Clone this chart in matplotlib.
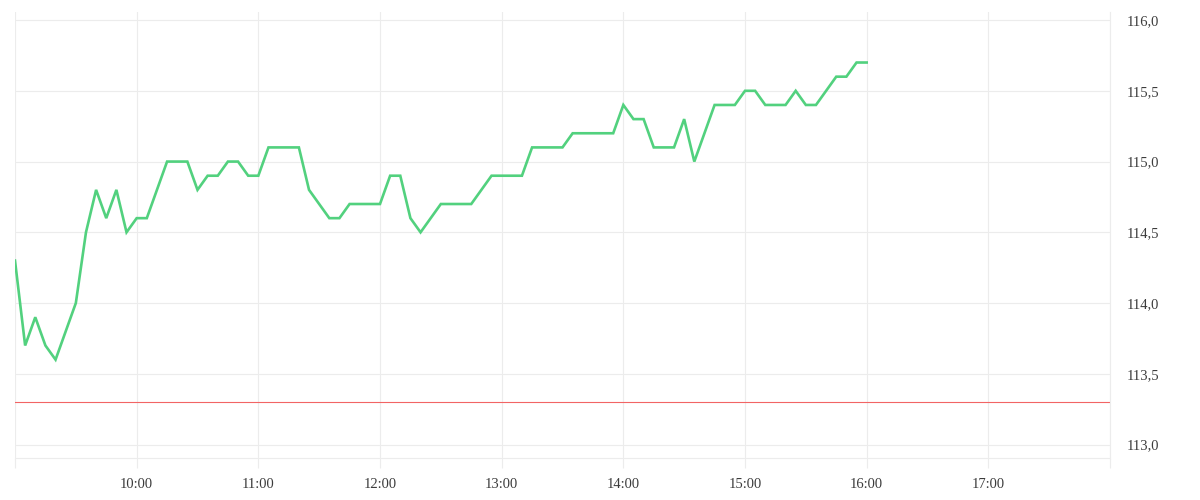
import matplotlib
matplotlib.use("Agg")
import matplotlib.pyplot as plt
from matplotlib.ticker import FixedLocator, FuncFormatter

# ---- data ----
times = [
    "09:00", "09:05", "09:10", "09:15", "09:20", "09:25", "09:30", "09:35", "09:40", "09:45", "09:50", "09:55",
    "10:00", "10:05", "10:10", "10:15", "10:20", "10:25", "10:30", "10:35", "10:40", "10:45", "10:50", "10:55",
    "11:00", "11:05", "11:10", "11:15", "11:20", "11:25", "11:30", "11:35", "11:40", "11:45", "11:50", "11:55",
    "12:00", "12:05", "12:10", "12:15", "12:20", "12:25", "12:30", "12:35", "12:40", "12:45", "12:50", "12:55",
    "13:00", "13:05", "13:10", "13:15", "13:20", "13:25", "13:30", "13:35", "13:40", "13:45", "13:50", "13:55",
    "14:00", "14:05", "14:10", "14:15", "14:20", "14:25", "14:30", "14:35", "14:40", "14:45", "14:50", "14:55",
    "15:00", "15:05", "15:10", "15:15", "15:20", "15:25", "15:30", "15:35", "15:40", "15:45", "15:50", "15:55",
    "16:00",
]
prices = [
    114.3, 113.7, 113.9, 113.7, 113.6, 113.8, 114.0, 114.5, 114.8, 114.6, 114.8, 114.5,
    114.6, 114.6, 114.8, 115.0, 115.0, 115.0, 114.8, 114.9, 114.9, 115.0, 115.0, 114.9,
    114.9, 115.1, 115.1, 115.1, 115.1, 114.8, 114.7, 114.6, 114.6, 114.7, 114.7, 114.7,
    114.7, 114.9, 114.9, 114.6, 114.5, 114.6, 114.7, 114.7, 114.7, 114.7, 114.8, 114.9,
    114.9, 114.9, 114.9, 115.1, 115.1, 115.1, 115.1, 115.2, 115.2, 115.2, 115.2, 115.2,
    115.4, 115.3, 115.3, 115.1, 115.1, 115.1, 115.3, 115.0, 115.2, 115.4, 115.4, 115.4,
    115.5, 115.5, 115.4, 115.4, 115.4, 115.5, 115.4, 115.4, 115.5, 115.6, 115.6, 115.7,
    115.7,
]
reference_level = 113.3
hour_ticks = [9, 10, 11, 12, 13, 14, 15, 16, 17, 18]
hour_labels = ["", "10:00", "11:00", "12:00", "13:00", "14:00", "15:00", "16:00", "17:00", ""]
y_ticks = [113.0, 113.5, 114.0, 114.5, 115.0, 115.5, 116.0]


def to_hours(t):
    h, m = t.split(":")
    return int(h) + int(m) / 60.0


x = [to_hours(t) for t in times]

FONT = ["Liberation Serif", "DejaVu Serif"]
GRID = "#ececec"
TEXT = "#3c3c3c"

fig = plt.figure(figsize=(12, 5), dpi=100)
W, H = 1200, 500
left, right, top, bottom = 15, 1110, 12, 458
ax = fig.add_axes([left / W, 1 - bottom / H, (right - left) / W, (bottom - top) / H])

ax.plot(x, prices, color="#52d17e", linewidth=1.9, solid_joinstyle="miter", zorder=3)
ax.axhline(reference_level, color="#f26464", linewidth=0.8, zorder=2)

ax.set_xlim(9, 18)
ax.set_ylim(112.905, 116.057)

ax.xaxis.set_major_locator(FixedLocator(hour_ticks))
ax.set_xticklabels(hour_labels)
ax.yaxis.set_major_locator(FixedLocator(y_ticks))
ax.yaxis.set_major_formatter(FuncFormatter(lambda v, p: f"{v:.1f}".replace(".", ",")))
ax.yaxis.tick_right()

ax.grid(True, color=GRID, linewidth=0.8, zorder=0)
ax.tick_params(axis="x", length=7.2, width=0.8, color=GRID, pad=7, labelsize=10.5, labelcolor=TEXT)
ax.tick_params(axis="y", length=0, pad=12, labelsize=10.5, labelcolor=TEXT)
for lab in ax.get_xticklabels() + ax.get_yticklabels():
    lab.set_family(FONT)

for s in ["top", "left"]:
    ax.spines[s].set_visible(False)
for s in ["bottom", "right"]:
    ax.spines[s].set_color(GRID)
    ax.spines[s].set_linewidth(0.8)

fig.savefig("out.png", dpi=100, facecolor="white")
